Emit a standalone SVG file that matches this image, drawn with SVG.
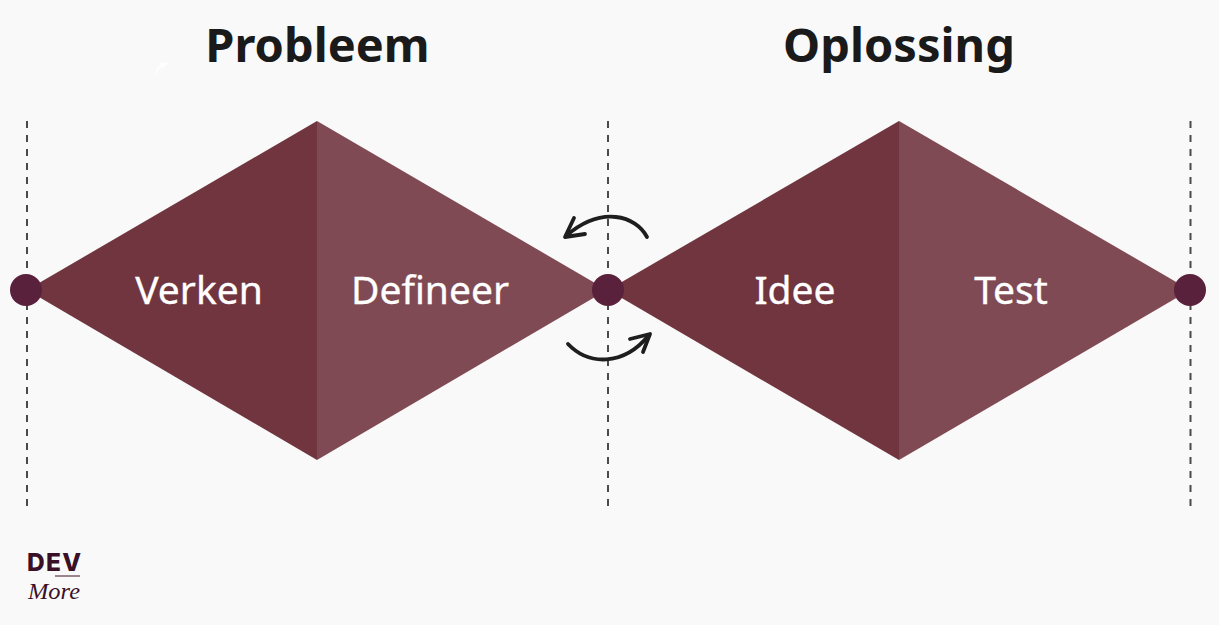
<svg xmlns="http://www.w3.org/2000/svg" width="1219" height="625" viewBox="0 0 1219 625">
<style>
.t{font-family:"Noto Sans","Open Sans",sans-serif}
.h{font-size:47px;font-weight:700;fill:#1a1a1a;text-anchor:middle}
.l{font-size:39px;fill:#fff;text-anchor:middle;stroke:#fff;stroke-width:.35}
.d{stroke:#4a4a4a;stroke-width:2;stroke-dasharray:7 7;fill:none}
.a{fill:#70353f}.b{fill:#7f4a54}
.c{fill:#5a213c}
.r{fill:none;stroke:#1e1e1e;stroke-width:3.800;stroke-linecap:round;stroke-linejoin:round}
</style>
<rect width="1219" height="625" fill="#f9f9f9"/>
<g id="connectors">
<path class="d" d="M27 121V511"/>
<path class="d" d="M608 121V511"/>
<path class="d" d="M1190.500 121V511"/>
<path class="r" d="M647 237C636 216 602 205 566 236"/>
<path class="r" d="M574 218L565 237L585 234"/>
<path class="r" d="M568 344C588 365 623 367 649 335"/>
<path class="r" d="M630 339L650 334L643 352"/>
</g>
<g id="diamond-probleem">
<path class="a" d="M317 121V460L27 290Z"/>
<path class="b" d="M317 121V460L607 290Z"/>
</g>
<g id="diamond-oplossing">
<path class="a" d="M899 121V460L608 290Z"/>
<path class="b" d="M899 121V460L1190 290Z"/>
</g>
<g id="node-left"><circle class="c" cx="26" cy="290" r="16"/></g>
<g id="node-mid"><circle class="c" cx="608" cy="290" r="16"/></g>
<g id="node-right"><circle class="c" cx="1190" cy="290" r="16"/></g>
<text class="t h" x="317.500" y="62">Probleem</text>
<text class="t h" x="899" y="62">Oplossing</text>
<text class="t l" x="199" y="304">Verken</text>
<text class="t l" x="430" y="304">Defineer</text>
<text class="t l" x="795" y="304">Idee</text>
<text class="t l" x="1011" y="304">Test</text>
<path d="M156 75C156 70 158 67 163 65M160 64L166 64L162 68" fill="none" stroke="#fff" stroke-width="1.500"/>
<g id="logo">
<text x="27" y="571" font-family="Inter,'Liberation Sans',sans-serif" font-weight="800" font-size="24.500" textLength="54" lengthAdjust="spacing" fill="#3a1028">DEV</text>
<path d="M55 576H80" stroke="#3a1028" stroke-width="1"/>
<text x="28" y="599" font-family="'Liberation Serif',serif" font-style="italic" font-size="24" textLength="52" lengthAdjust="spacingAndGlyphs" fill="#3a1028">More</text>
</g>
</svg>
